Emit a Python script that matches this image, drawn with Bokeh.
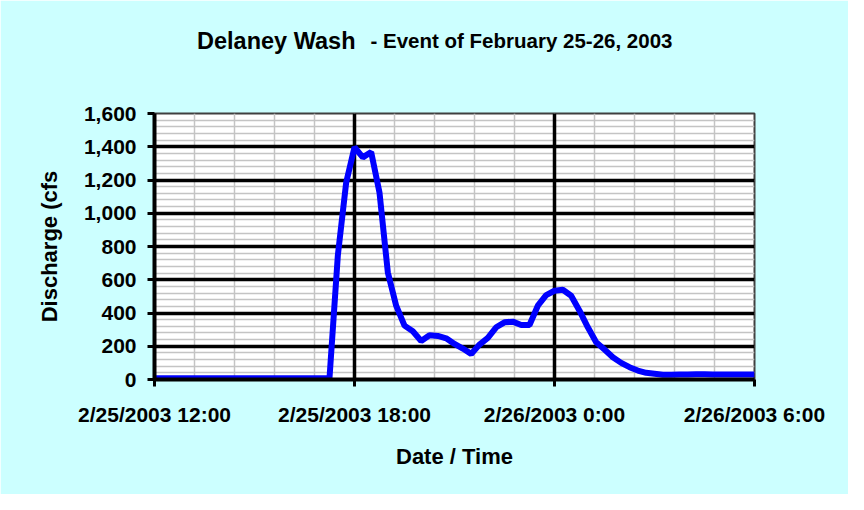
import pandas as pd
from bokeh.plotting import figure
from bokeh.models import FixedTicker, NumeralTickFormatter, Label, Range1d, Grid
from bokeh.embed import file_html
from bokeh.resources import INLINE

# ---- data (15-minute readings starting 2/25/2003 12:00) ----
start_time = "2003-02-25 12:00"
end_time = "2003-02-26 06:00"
discharge = [
    8, 8, 8, 8, 8, 8, 8, 8, 8, 8, 8,                      # 12:00 - 14:30
    8, 8, 8, 8, 8, 8, 8, 8, 8, 8, 8,                      # 14:45 - 17:15
    746, 1184, 1397, 1336, 1368, 1124, 644, 444,          # 17:30 - 19:15
    324, 290, 232, 266, 262, 248, 214, 186,               # 19:30 - 21:15
    154, 210, 250, 314, 344, 348, 328, 328,               # 21:30 - 23:15
    444, 508, 534, 540, 504, 414, 314, 224,               # 23:30 - 01:15
    180, 134, 100, 74, 54, 40, 34, 28,                    # 01:30 - 03:15
    28, 30, 30, 32, 32, 30, 30, 30, 30, 30, 30,           # 03:30 - 06:00
]
times = pd.date_range(start_time, periods=len(discharge), freq="15min")

x_tick_times = ["2003-02-25 12:00", "2003-02-25 18:00", "2003-02-26 00:00", "2003-02-26 06:00"]
x_tick_labels = ["2/25/2003 12:00", "2/25/2003 18:00", "2/26/2003 0:00", "2/26/2003 6:00"]
y_ticks = [0, 200, 400, 600, 800, 1000, 1200, 1400, 1600]
y_minor_step = 40
x_minor_step = "72min"

title_main = "Delaney Wash"
title_sub = "- Event of February 25-26, 2003"
x_label = "Date / Time"
y_label = "Discharge (cfs"

def ms(t):
    return float(pd.Timestamp(t).value // 10**6)

FONT = "Liberation Sans"
W, H = 848, 494

p = figure(width=W, height=H, x_axis_type="datetime", output_backend="svg",
           toolbar_location=None, title=None,
           x_range=Range1d(ms(start_time), ms(end_time)),
           y_range=Range1d(y_ticks[0], y_ticks[-1]),
           min_border_left=154, min_border_right=W - 754,
           min_border_top=113, min_border_bottom=H - 379)

p.background_fill_color = "white"
p.border_fill_color = "#CCFFFF"
p.outline_line_color = "#404040"
p.outline_line_width = 2

# ticks
x_major = [ms(t) for t in x_tick_times]
x_minor = [ms(t) for t in pd.date_range(start_time, end_time, freq=x_minor_step)]
xt = FixedTicker(ticks=x_major, minor_ticks=x_minor)
yt = FixedTicker(ticks=y_ticks, minor_ticks=list(range(y_ticks[0], y_ticks[-1] + 1, y_minor_step)))
p.xaxis.ticker = xt
p.yaxis.ticker = yt
p.xaxis.major_label_overrides = {k: v for k, v in zip(x_major, x_tick_labels)}
p.yaxis.formatter = NumeralTickFormatter(format="0,0")

# grids: minor first (both directions), then horizontal major, then vertical major
p.xgrid.visible = False
p.ygrid.visible = False
for dim, tk in ((0, xt), (1, yt)):
    p.add_layout(Grid(dimension=dim, ticker=tk, grid_line_color=None,
                      minor_grid_line_color="#c4c4c4", minor_grid_line_width=1.5,
                      level="image"))
for dim, tk in ((1, yt), (0, xt)):
    p.add_layout(Grid(dimension=dim, ticker=tk, grid_line_color="black",
                      grid_line_width=3.5, level="underlay"))

# axes
for ax in (p.xaxis, p.yaxis):
    ax.axis_line_color = "black"
    ax.axis_line_width = 4
    ax.major_tick_line_color = "black"
    ax.major_tick_line_width = 3
    ax.major_tick_out = 7
    ax.major_tick_in = 0
    ax.minor_tick_line_color = None
    ax.major_label_text_font = FONT
    ax.major_label_text_font_style = "bold"
    ax.major_label_text_font_size = "21px"
    ax.major_label_text_color = "black"
    ax.axis_label_text_font = FONT
    ax.axis_label_text_font_style = "bold"
    ax.axis_label_text_font_size = "22px"
    ax.axis_label_text_color = "black"

p.xaxis.axis_label = x_label
p.yaxis.axis_label = y_label
p.xaxis.major_label_standoff = 16
p.yaxis.major_label_standoff = 11
p.xaxis.axis_label_standoff = 15
p.yaxis.axis_label_standoff = 19

p.line(times, discharge, line_color="#0000FF", line_width=6)

# title (two parts, different sizes), placed in the top panel
p.add_layout(Label(x=216, y=73, x_units="screen", y_units="screen",
                   text=title_sub, text_font=FONT, text_font_style="bold",
                   text_font_size="20.5px", text_align="left", text_baseline="alphabetic",
                   text_color="black"), "above")
p.add_layout(Label(x=201, y=50, x_units="screen", y_units="screen",
                   text=title_main, text_font=FONT, text_font_style="bold",
                   text_font_size="23.5px", text_align="right", text_baseline="alphabetic",
                   text_color="black"), "above")

open("out.html", "w").write(file_html(p, INLINE))
